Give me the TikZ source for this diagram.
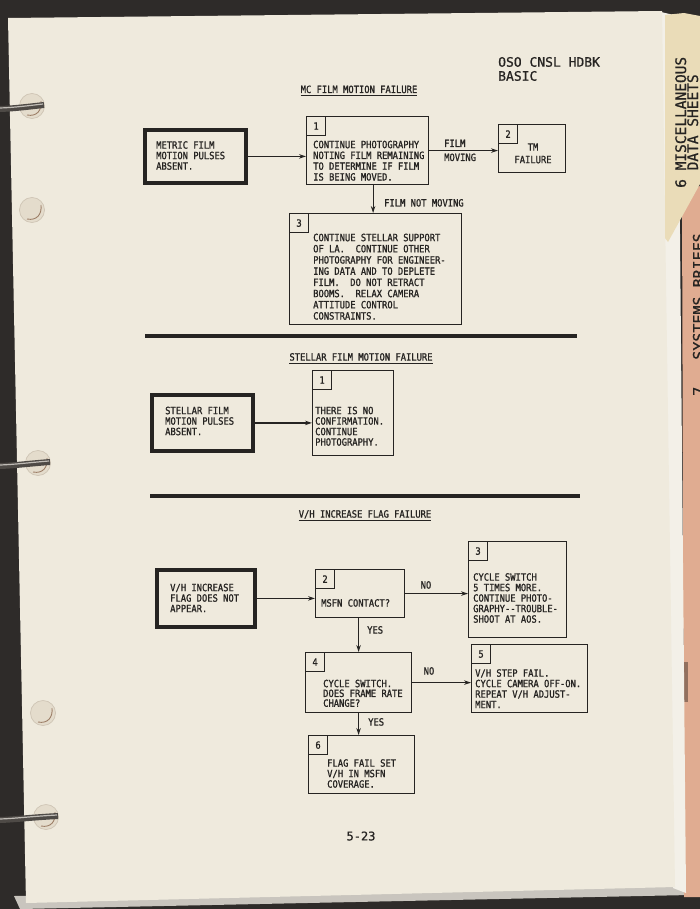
\documentclass[tikz,border=0pt]{standalone}
\usepackage{fontspec}
\usetikzlibrary{arrows.meta}
\newfontfamily\twf[FakeStretch=0.88,FakeBold=1.2]{DejaVu Sans Mono}
\newfontfamily\hdf[FakeBold=0.8]{DejaVu Sans Mono}
\definecolor{ink}{HTML}{262422}
\definecolor{paper}{HTML}{EFEADD}
\definecolor{binder}{HTML}{2E2B29}
\definecolor{edgew}{HTML}{F3F0E8}
\definecolor{edgeg}{HTML}{C9C5BE}
\definecolor{tabsix}{HTML}{EADCB8}
\definecolor{tabseven}{HTML}{E0AC91}
\definecolor{holefill}{HTML}{E4DCCC}
\definecolor{holeedge}{HTML}{CFC5B5}
\definecolor{holebrown}{HTML}{9C7E66}
\definecolor{ringc}{HTML}{4E4A46}
\definecolor{ringhl}{HTML}{BFBBB5}
\begin{document}
\begin{tikzpicture}[x=1pt,y=-1pt,
  bx/.style={draw=ink, line width=1.2pt, inner sep=0pt, anchor=north west},
  thk/.style={draw=ink, line width=3.8pt, inner sep=0pt, anchor=north west},
  nb/.style={draw=ink, line width=1.1pt, inner sep=0pt, minimum size=19pt, anchor=north west, text=ink, font=\twf\fontsize{10}{10}\selectfont},
  tx/.style={inner sep=0pt, anchor=base west, align=left, text=ink, font=\twf\fontsize{10}{10.5}\selectfont},
  ttl/.style={inner sep=0pt, anchor=base, text=ink, font=\twf\fontsize{10}{10}\selectfont},
  arr/.style={draw=ink, line width=1.2pt, -{Stealth[length=7pt,width=4.5pt]}},
  ul/.style={draw=ink, line width=1.2pt},
  sepline/.style={draw=ink, line width=4.8pt},
  tabtxt/.style={inner sep=0pt, rotate=90, anchor=base west, align=left, text=ink, font=\hdf\fontsize{14.5}{12}\selectfont},
]
\useasboundingbox (0,0) rectangle (700,909);
\clip (0,0) rectangle (700,909);
% ---------- binder, page, tabs ----------
\fill[binder] (0,0) rectangle (700,909);
\fill[edgeg] (14,896) -- (676,884) -- (690,895) -- (20,909) -- cycle;
\fill[tabseven] (682,192) -- (700,186) -- (700,897) -- (684,897) -- cycle;
\fill[tabseven!65!black] (683,662) rectangle (688,702);
\fill[edgew] (661,12) -- (678,16) -- (686,893) -- (673,888) -- cycle;
\fill[paper] (8,18) -- (662,11) -- (675,887) -- (26,903) -- cycle;
\fill[tabsix] (665,15) -- (684,13) -- (700,16) -- (700,184) -- (668,242) -- (665,238) -- cycle;
\node[tabtxt] (tab6) at (698,188) {6 MISCELLANEOUS\\\phantom{6 }DATA SHEETS};
\node[tabtxt, font=\hdf\fontsize{15}{12}\selectfont] (tab7) at (704,396) {7\ \ \ SYSTEMS BRIEFS};
% ---------- holes and rings ----------
\foreach \hx/\hy in {32/106, 32/210, 38/463, 43/713, 46/817} {
  \fill[holefill] (\hx,\hy) circle [radius=12.5];
  \draw[holeedge, line width=0.7pt] (\hx,\hy) circle [radius=12.5];
  \draw[holebrown, line width=0.9pt] (\hx-5,\hy+9) .. controls (\hx+5,\hy+11) and (\hx+10,\hy+4) .. (\hx+9,\hy-5);
}
\foreach \hx/\hy in {32/106, 38/463, 46/817} {
  \draw[ringc, line width=6pt] (0,\hy+3) .. controls (15,\hy+2.5) and (30,\hy+0.5) .. (\hx+12,\hy-1);
  \draw[ringhl, line width=1.2pt] (0,\hy+2) .. controls (15,\hy+1.5) and (30,\hy-0.5) .. (\hx+11,\hy-2);
}
% ---------- header ----------
\node[inner sep=0pt, anchor=base west, align=left, text=ink, font=\hdf\fontsize{13}{14}\selectfont] (hdr) at (498,80.7) {OSO CNSL HDBK\\BASIC};
% ---------- MC film motion failure ----------
\node[ttl] (t1) at (359,93) {MC FILM MOTION FAILURE};
\draw[ul] ([yshift=-2.5pt]t1.base west) -- ([yshift=-2.5pt]t1.base east);
\node[thk, minimum width=101pt, minimum height=53pt] (mb) at (143,128) {};
\node[tx] (mbt) at (156,169.65) {METRIC FILM\\MOTION PULSES\\ABSENT.};
\node[bx, minimum width=122pt, minimum height=68pt] (b1) at (306,116) {};
\node[nb] (b1n) at (b1.north west) {1};
\node[tx, font=\twf\fontsize{10}{10.8}\selectfont] (b1t) at (313,180.55) {CONTINUE PHOTOGRAPHY\\NOTING FILM REMAINING\\TO DETERMINE IF FILM\\IS BEING MOVED.};
\node[bx, minimum width=67pt, minimum height=48pt] (b2) at (498,124) {};
\node[nb] (b2n) at (b2.north west) {2};
\node[ttl, align=center, font=\twf\fontsize{10}{12.5}\selectfont] (b2t) at (533,163.15) {TM\\FAILURE};
\draw[arr] (mb.east) -- (mb.east -| b1.west);
\draw[arr] (b1.east) -- (b1.east -| b2.west);
\node[tx] (lfilm) at (444,147) {FILM};
\node[tx] (lmov) at (444,161) {MOVING};
\node[bx, minimum width=172pt, minimum height=111pt] (b3) at (289,213) {};
\node[nb] (b3n) at (b3.north west) {3};
\coordinate (d13) at ([xshift=-2.5pt]b3.north);
\draw[arr] (d13 |- b1.south) -- (d13);
\node[tx] (lfnm) at (384,206.5) {FILM NOT MOVING};
\node[tx, font=\twf\fontsize{10}{11.2}\selectfont] (b3t) at (313,319.55) {CONTINUE STELLAR SUPPORT\\OF LA.\ \ CONTINUE OTHER\\PHOTOGRAPHY FOR ENGINEER-\\ING DATA AND TO DEPLETE\\FILM.\ \ DO NOT RETRACT\\BOOMS.\ \ RELAX CAMERA\\ATTITUDE CONTROL\\CONSTRAINTS.};
\coordinate (s1a) at (145,336);
\coordinate (s1b) at (577,336);
\draw[sepline] (s1a) -- (s1b);
% ---------- Stellar film motion failure ----------
\node[ttl] (t2) at (361,360.6) {STELLAR FILM MOTION FAILURE};
\draw[ul] ([yshift=-2.5pt]t2.base west) -- ([yshift=-2.5pt]t2.base east);
\node[thk, minimum width=101pt, minimum height=56pt] (sb) at (150,393) {};
\node[tx] (sbt) at (165,435.15) {STELLAR FILM\\MOTION PULSES\\ABSENT.};
\node[bx, minimum width=81pt, minimum height=85pt] (s1) at (312,370) {};
\node[nb] (s1n) at (s1.north west) {1};
\node[tx] (s1t) at (315,445.65) {THERE IS NO\\CONFIRMATION.\\CONTINUE\\PHOTOGRAPHY.};
\draw[arr] (sb.east) -- (sb.east -| s1.west);
\coordinate (s2a) at (150,496);
\coordinate (s2b) at (580,496);
\draw[sepline] (s2a) -- (s2b);
% ---------- V/H increase flag failure ----------
\node[ttl] (t3) at (365,517.6) {V/H INCREASE FLAG FAILURE};
\draw[ul] ([yshift=-2.5pt]t3.base west) -- ([yshift=-2.5pt]t3.base east);
\node[thk, minimum width=98pt, minimum height=57pt] (vb) at (155,568) {};
\node[tx] (vbt) at (170,612.15) {V/H INCREASE\\FLAG DOES NOT\\APPEAR.};
\node[bx, minimum width=89pt, minimum height=48pt] (v2) at (315,569) {};
\node[nb] (v2n) at (v2.north west) {2};
\node[tx] (v2t) at (321,606.6) {MSFN CONTACT?};
\draw[arr] (vb.east) -- (vb.east -| v2.west);
\node[bx, minimum width=98pt, minimum height=96pt] (v3) at (468,541) {};
\node[nb] (v3n) at (v3.north west) {3};
\node[tx] (v3t) at (473,622.65) {CYCLE SWITCH\\5 TIMES MORE.\\CONTINUE PHOTO-\\GRAPHY-{}-TROUBLE-\\SHOOT AT AOS.};
\draw[arr] (v2.east) -- (v2.east -| v3.west);
\node[ttl] (lno1) at (426,588.6) {NO};
\node[bx, minimum width=106pt, minimum height=60pt] (v4) at (305,652) {};
\node[nb] (v4n) at (v4.north west) {4};
\node[tx, font=\twf\fontsize{10}{9.8}\selectfont] (v4t) at (323,706.75) {CYCLE SWITCH.\\DOES FRAME RATE\\CHANGE?};
\draw[arr] (v4.north |- v2.south) -- (v4.north);
\node[tx] (lyes1) at (367,633.6) {YES};
\node[bx, minimum width=116pt, minimum height=68pt] (v5) at (471,644) {};
\node[nb] (v5n) at (v5.north west) {5};
\node[tx] (v5t) at (475,708.15) {V/H STEP FAIL.\\CYCLE CAMERA OFF-ON.\\REPEAT V/H ADJUST-\\MENT.};
\draw[arr] (v4.east) -- (v4.east -| v5.west);
\node[ttl] (lno2) at (429,674.6) {NO};
\node[bx, minimum width=106pt, minimum height=58pt] (v6) at (308,735) {};
\node[nb] (v6n) at (v6.north west) {6};
\node[tx] (v6t) at (327,787.65) {FLAG FAIL SET\\V/H IN MSFN\\COVERAGE.};
\draw[arr] (v4.south) -- (v4.south |- v6.north);
\node[tx] (lyes2) at (368,725.6) {YES};
% ---------- page number ----------
\node[inner sep=0pt, anchor=base, text=ink, font=\hdf\fontsize{12}{12}\selectfont] (pg) at (361,840.4) {5-23};
\end{tikzpicture}
\end{document}
